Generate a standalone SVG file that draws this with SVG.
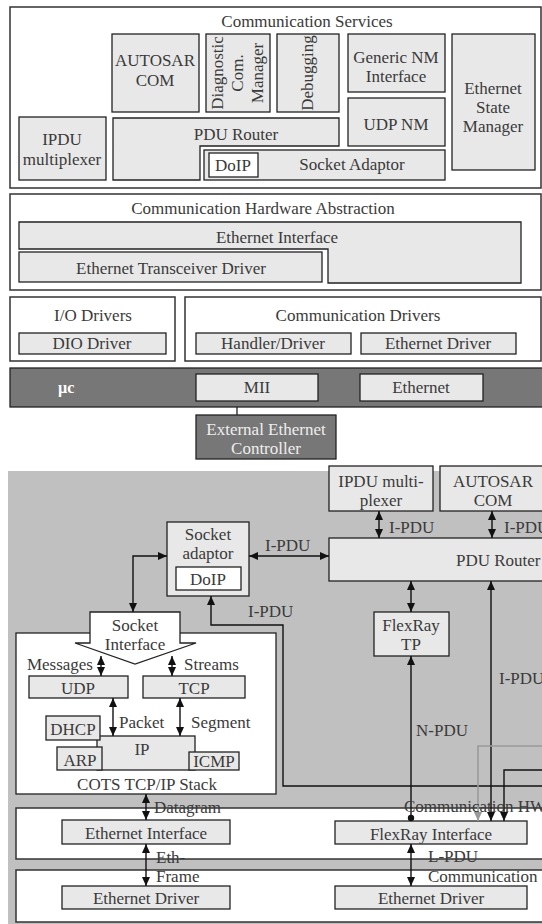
<svg xmlns="http://www.w3.org/2000/svg" width="542" height="924" viewBox="0 0 542 924">
  <defs>
    <style>
      text { font-family: "Liberation Serif", "DejaVu Serif", serif; font-size: 17px; fill: #3a3a3a; }
      .c { text-anchor: middle; }
      .sec { fill: #fff; stroke: #333; stroke-width: 1.5; }
      .box { fill: #e8e8e8; stroke: #222; stroke-width: 1.3; }
      .wbox { fill: #fff; stroke: #222; stroke-width: 1.3; }
      .dark { fill: #777; stroke: #222; stroke-width: 1.3; }
      .lt { fill: #eee; }
      .con { fill: none; stroke: #111; stroke-width: 1.4; }
      .grey { fill: none; stroke: #999; stroke-width: 1.6; }
    </style>
    <marker id="ah" viewBox="0 0 9 8" refX="9" refY="4" markerWidth="9" markerHeight="8" markerUnits="userSpaceOnUse" orient="auto-start-reverse">
      <path d="M0,0 L9,4 L0,8 z" fill="#111"/>
    </marker>
    <marker id="ahg" viewBox="0 0 9 8" refX="9" refY="4" markerWidth="9" markerHeight="8" markerUnits="userSpaceOnUse" orient="auto-start-reverse">
      <path d="M0,0 L9,4 L0,8 z" fill="#999"/>
    </marker>
  </defs>

  <!-- ===== Layered architecture ===== -->
  <g id="communication-services">
    <rect class="sec" x="10" y="7" width="531" height="181"/>
    <text class="c" x="307" y="27">Communication Services</text>
  </g>
  <g id="autosar-com-top">
    <rect class="box" x="112" y="34" width="87" height="78"/>
    <text class="c" x="155" y="66">AUTOSAR</text>
    <text class="c" x="155" y="86">COM</text>
  </g>
  <g id="diag-com-manager">
    <rect class="box" x="206" y="34" width="64" height="78"/>
    <text class="c" transform="translate(223,73) rotate(-90)">Diagnostic</text>
    <text class="c" transform="translate(243,73) rotate(-90)">Com.</text>
    <text class="c" transform="translate(263,73) rotate(-90)">Manager</text>
  </g>
  <g id="debugging">
    <rect class="box" x="277" y="34" width="62" height="78"/>
    <text class="c" transform="translate(313,73) rotate(-90)">Debugging</text>
  </g>
  <g id="generic-nm">
    <rect class="box" x="348" y="34" width="97" height="58"/>
    <text class="c" x="396" y="63">Generic NM</text>
    <text class="c" x="396" y="82">Interface</text>
  </g>
  <g id="udp-nm">
    <rect class="box" x="348" y="98" width="97" height="48"/>
    <text class="c" x="396" y="130">UDP NM</text>
  </g>
  <g id="eth-state-manager">
    <rect class="box" x="452" y="34" width="83" height="136"/>
    <text class="c" x="493" y="94">Ethernet</text>
    <text class="c" x="493" y="113">State</text>
    <text class="c" x="493" y="132">Manager</text>
  </g>
  <g id="ipdu-mux-top">
    <rect class="box" x="19" y="117" width="87" height="63"/>
    <text class="c" x="62" y="145">IPDU</text>
    <text class="c" x="62" y="165">multiplexer</text>
  </g>
  <g id="pdu-router-top">
    <path class="box" d="M113,118 H339 V146 H200 V180 H113 Z"/>
    <text class="c" x="236" y="140">PDU Router</text>
  </g>
  <g id="socket-adaptor-top">
    <rect class="box" x="204" y="150" width="241" height="30"/>
    <text class="c" x="352" y="170">Socket Adaptor</text>
    <rect class="wbox" x="209" y="153" width="49" height="24"/>
    <text class="c" x="233" y="171">DoIP</text>
  </g>

  <g id="comm-hw-abstraction">
    <rect class="sec" x="10" y="194" width="531" height="96"/>
    <text class="c" x="263" y="214">Communication Hardware Abstraction</text>
  </g>
  <g id="eth-interface-top">
    <path class="box" d="M19,222 H521 V283 H328 V249 H19 Z"/>
    <text class="c" x="277" y="243">Ethernet Interface</text>
  </g>
  <g id="eth-transceiver">
    <rect class="box" x="19" y="252" width="303" height="30"/>
    <text class="c" x="171" y="274">Ethernet Transceiver Driver</text>
  </g>

  <g id="io-drivers">
    <rect class="sec" x="10" y="297" width="165" height="64"/>
    <text class="c" x="93" y="321">I/O Drivers</text>
    <rect class="box" x="19" y="333" width="147" height="21"/>
    <text class="c" x="92" y="349">DIO Driver</text>
  </g>
  <g id="comm-drivers">
    <rect class="sec" x="185" y="297" width="356" height="64"/>
    <text class="c" x="358" y="321">Communication Drivers</text>
    <rect class="box" x="196" y="333" width="155" height="21"/>
    <text class="c" x="273" y="349">Handler/Driver</text>
    <rect class="box" x="361" y="333" width="155" height="21"/>
    <text class="c" x="438" y="349">Ethernet Driver</text>
  </g>

  <g id="microcontroller">
    <rect class="dark" x="10" y="368" width="540" height="39"/>
    <text x="58" y="393" style="fill:#fff;font-weight:bold;font-size:16px">µc</text>
    <rect class="box" x="196" y="374" width="122" height="27"/>
    <text class="c" x="257" y="393">MII</text>
    <rect class="box" x="360" y="374" width="123" height="27"/>
    <text class="c" x="421" y="393">Ethernet</text>
  </g>
  <g id="ext-eth-controller">
    <line x1="237" y1="407" x2="237" y2="415" stroke="#222" stroke-width="1.3"/>
    <rect class="dark" x="196" y="415" width="140" height="44"/>
    <text class="c lt" x="266" y="435">External Ethernet</text>
    <text class="c lt" x="266" y="454">Controller</text>
  </g>

  <!-- ===== Data flow through the stack ===== -->
  <rect x="8" y="471" width="534" height="453" fill="#c0c0c0"/>

  <g id="ipdu-mux">
    <rect class="box" x="329" y="466" width="104" height="45"/>
    <text class="c" x="381" y="487">IPDU multi-</text>
    <text class="c" x="381" y="506">plexer</text>
  </g>
  <g id="autosar-com">
    <rect class="box" x="440" y="466" width="110" height="45"/>
    <text class="c" x="493" y="487">AUTOSAR</text>
    <text class="c" x="493" y="506">COM</text>
  </g>
  <g id="pdu-router">
    <rect class="box" x="329" y="538" width="221" height="43"/>
    <text x="456" y="566">PDU Router</text>
  </g>
  <g id="socket-adaptor">
    <rect class="box" x="167" y="522" width="82" height="74"/>
    <text class="c" x="208" y="540">Socket</text>
    <text class="c" x="208" y="559">adaptor</text>
    <rect class="wbox" x="176" y="567" width="65" height="23"/>
    <text class="c" x="208" y="585">DoIP</text>
  </g>
  <g id="flexray-tp">
    <rect class="box" x="374" y="612" width="75" height="44"/>
    <text class="c" x="411" y="631">FlexRay</text>
    <text class="c" x="411" y="650">TP</text>
  </g>

  <g id="cots-stack">
    <rect class="wbox" x="16" y="633" width="260" height="161"/>
    <text class="c" x="147" y="790">COTS TCP/IP Stack</text>
  </g>
  <g id="socket-interface">
    <path class="wbox" d="M90,612 H180 V643 H196 L135,664 L75,643 H90 Z"/>
    <text class="c" x="135" y="631">Socket</text>
    <text class="c" x="135" y="650">Interface</text>
  </g>
  <g id="udp">
    <rect class="box" x="29" y="676" width="99" height="22"/>
    <text class="c" x="78" y="694">UDP</text>
  </g>
  <g id="tcp">
    <rect class="box" x="143" y="676" width="102" height="22"/>
    <text class="c" x="194" y="694">TCP</text>
  </g>
  <g id="ip">
    <rect class="box" x="97" y="736" width="98" height="34"/>
    <text class="c" x="142" y="755">IP</text>
  </g>
  <g id="dhcp">
    <rect class="box" x="46" y="716" width="54" height="24"/>
    <text class="c" x="73" y="735">DHCP</text>
  </g>
  <g id="arp">
    <rect class="box" x="57" y="747" width="45" height="23"/>
    <text class="c" x="80" y="766">ARP</text>
  </g>
  <g id="icmp">
    <rect class="box" x="189" y="752" width="50" height="18"/>
    <text class="c" x="214" y="767">ICMP</text>
  </g>

  <g id="hw-abstraction-layer">
    <rect class="sec" x="16" y="808" width="534" height="51"/>
  </g>
  <g id="driver-layer">
    <rect class="sec" x="16" y="870" width="534" height="52"/>
  </g>
  <g id="eth-interface">
    <rect class="box" x="62" y="820" width="168" height="24"/>
    <text class="c" x="146" y="839">Ethernet Interface</text>
  </g>
  <g id="eth-driver">
    <rect class="box" x="62" y="886" width="168" height="23"/>
    <text class="c" x="146" y="904">Ethernet Driver</text>
  </g>
  <g id="flexray-interface">
    <rect class="box" x="335" y="821" width="192" height="23"/>
    <text class="c" x="431" y="840">FlexRay Interface</text>
  </g>
  <g id="eth-driver-2">
    <rect class="box" x="335" y="886" width="192" height="23"/>
    <text class="c" x="431" y="904">Ethernet Driver</text>
  </g>

  <g id="connectors">
    <!-- upper-layer modules to PDU Router -->
    <line class="con" x1="379" y1="511" x2="379" y2="538" marker-start="url(#ah)" marker-end="url(#ah)"/>
    <line class="con" x1="492" y1="511" x2="492" y2="538" marker-start="url(#ah)" marker-end="url(#ah)"/>
    <!-- PDU Router to Socket adaptor -->
    <line class="con" x1="249" y1="556" x2="329" y2="556" marker-start="url(#ah)" marker-end="url(#ah)"/>
    <!-- Socket adaptor to Socket Interface -->
    <path class="con" d="M167,556 H133 V612" marker-start="url(#ah)" marker-end="url(#ah)"/>
    <!-- I-PDU route into DoIP -->
    <path class="con" d="M550,786 H283 V625 H211 V596" marker-end="url(#ah)"/>
    <!-- PDU Router / FlexRay TP -->
    <line class="con" x1="411" y1="581" x2="411" y2="612" marker-start="url(#ah)" marker-end="url(#ah)"/>
    <line class="con" x1="411" y1="818" x2="411" y2="656" marker-end="url(#ah)"/>
    <circle cx="411" cy="818" r="3.2" fill="#111"/>
    <line class="con" x1="491" y1="581" x2="491" y2="821" marker-start="url(#ah)" marker-end="url(#ah)"/>
    <path class="grey" d="M550,746 H478 V821" marker-end="url(#ahg)"/>
    <path class="con" d="M550,770 H504 V821" marker-end="url(#ah)"/>
    <!-- inside the TCP/IP stack -->
    <line class="con" x1="101" y1="656" x2="101" y2="676" marker-start="url(#ah)" marker-end="url(#ah)"/>
    <line class="con" x1="172" y1="656" x2="172" y2="676" marker-start="url(#ah)" marker-end="url(#ah)"/>
    <line class="con" x1="113" y1="698" x2="113" y2="736" marker-start="url(#ah)" marker-end="url(#ah)"/>
    <line class="con" x1="180" y1="698" x2="180" y2="736" marker-start="url(#ah)" marker-end="url(#ah)"/>
    <!-- down to the hardware layers -->
    <line class="con" x1="146" y1="794" x2="146" y2="820" marker-start="url(#ah)" marker-end="url(#ah)"/>
    <line class="con" x1="146" y1="844" x2="146" y2="886" marker-start="url(#ah)" marker-end="url(#ah)"/>
    <line class="con" x1="411" y1="844" x2="411" y2="886" marker-start="url(#ah)" marker-end="url(#ah)"/>
  </g>

  <g id="labels">
    <text x="389" y="533">I-PDU</text>
    <text x="504" y="533">I-PDU</text>
    <text x="265" y="551">I-PDU</text>
    <text x="248" y="617">I-PDU</text>
    <text x="499" y="684">I-PDU</text>
    <text x="416" y="736">N-PDU</text>
    <text x="93" y="670" text-anchor="end">Messages</text>
    <text x="184" y="670">Streams</text>
    <text x="119" y="728">Packet</text>
    <text x="191" y="728">Segment</text>
    <text x="154" y="813">Datagram</text>
    <text x="156" y="863">Eth-</text>
    <text x="156" y="882">Frame</text>
    <text x="404" y="812">Communication HW</text>
    <text x="428" y="862">L-PDU</text>
    <text x="428" y="882">Communication</text>
  </g>
</svg>
